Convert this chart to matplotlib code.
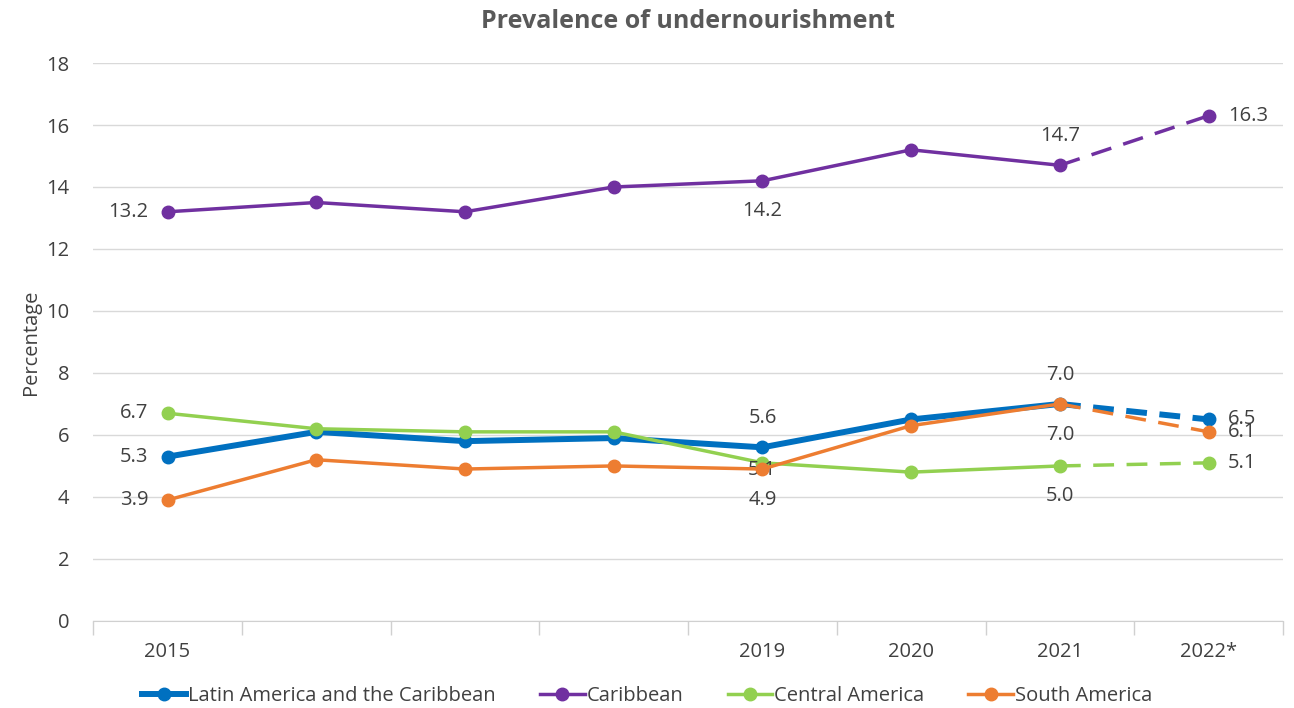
import matplotlib.pyplot as plt
from matplotlib.lines import Line2D

plt.rcParams['font.family'] = ['Open Sans', 'DejaVu Sans']

years = ["2015", "", "", "", "2019", "2020", "2021", "2022*"]
lac = [5.3, 6.1, 5.8, 5.9, 5.6, 6.5, 7.0, 6.5]
caribbean = [13.2, 13.5, 13.2, 14.0, 14.2, 15.2, 14.7, 16.3]
central = [6.7, 6.2, 6.1, 6.1, 5.1, 4.8, 5.0, 5.1]
south = [3.9, 5.2, 4.9, 5.0, 4.9, 6.3, 7.0, 6.1]

names = ["Latin America and the Caribbean", "Caribbean", "Central America", "South America"]
colors = ["#0070C0", "#7030A0", "#92D050", "#ED7D31"]
widths = [4.3, 2.5, 2.5, 2.5]

# which points get a label and where: (index, position, offset in points)
label_pos = [
    [(0, "left", 14), (4, "above", 21), (6, "above", 21), (7, "right", 14)],
    [(0, "left", 14), (4, "below", 22), (6, "above", 21), (7, "right", 14)],
    [(0, "left", 14), (4, "below", 5), (6, "below", 22), (7, "right", 14)],
    [(0, "left", 14), (4, "below", 22), (6, "below", 22), (7, "right", 14)],
]

txt = "#404040"
fs = 14.5
fig = plt.figure(figsize=(12.94, 7.08), dpi=100)
ax = fig.add_axes([0.072, 0.123, 0.9195, 0.788])

x = list(range(len(years)))
for vals, c, lw, labs in zip([lac, caribbean, central, south], colors, widths, label_pos):
    ax.plot(x[:7], vals[:7], color=c, lw=lw, marker="o", ms=9, solid_capstyle="round", zorder=3)
    ax.plot(x[6:], vals[6:], color=c, lw=lw, ls=(0, (15 / lw, 9 / lw)), marker="o", ms=9,
            markevery=[1], zorder=3)
    for i, pos, off in labs:
        v = vals[i]
        if pos == "left":
            xy, ha, va = (-off, 0), "right", "center"
        elif pos == "right":
            xy, ha, va = (off, 0), "left", "center"
        elif pos == "above":
            xy, ha, va = (0, off), "center", "center"
        else:
            xy, ha, va = (0, -off), "center", "center"
        ax.annotate(f"{v:.1f}", (i, v), xytext=xy, textcoords="offset points",
                    ha=ha, va=va, fontsize=fs, color=txt)

ax.set_xlim(-0.5, 7.5)
ax.set_ylim(0, 18)
ax.set_yticks(range(0, 19, 2))
ax.set_xticks(x)
ax.set_xticklabels(years)
ax.set_xticks([i - 0.5 for i in range(9)], minor=True)
ax.tick_params(axis="x", which="major", length=0, pad=15, labelsize=fs, labelcolor=txt)
ax.tick_params(axis="x", which="minor", length=10, color="#d0d0d0", width=1)
ax.tick_params(axis="y", length=0, pad=17, labelsize=fs, labelcolor=txt)
ax.grid(axis="y", color="#d9d9d9", lw=1)
ax.set_axisbelow(True)
for s in ["top", "right", "left"]:
    ax.spines[s].set_visible(False)
ax.spines["bottom"].set_color("#d0d0d0")

ax.set_ylabel("Percentage", fontsize=fs, color=txt, labelpad=4)
ax.set_title("Prevalence of undernourishment", fontsize=18, fontweight="bold", color="#595959", pad=25)

handles = [Line2D([0], [0], color=c, lw=lw, marker="o", ms=9) for c, lw in zip(colors, widths)]
fig.legend(handles, names, loc="center", bbox_to_anchor=(0.5, 0.017), ncol=4, frameon=False,
           fontsize=fs, labelcolor=txt, handlelength=2.2, handletextpad=0.1, columnspacing=2.2)

fig.savefig("out.png", dpi=100)
